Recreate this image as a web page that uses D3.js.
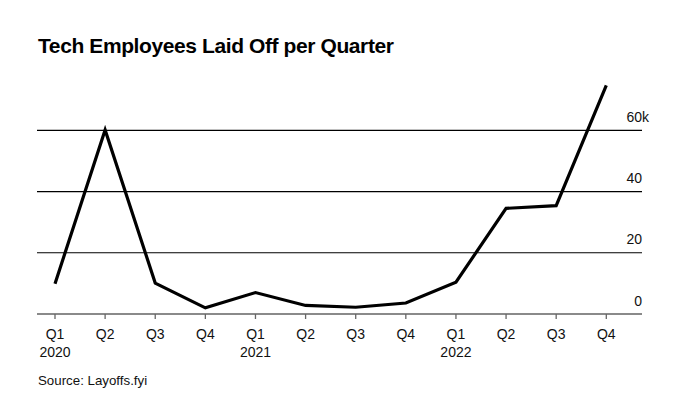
<html>
  <head>
    <style>
      body { margin: 0; background: #fff; }
      svg { font-family: "Liberation Sans", Arial, sans-serif; }
    </style>
  </head>
  <body>
    <div id="vis"></div>
    <script src="https://cdn.jsdelivr.net/npm/d3@7"></script>
    <script>
      // quarters and layoffs
      const quarters = ['Q1','Q2','Q3','Q4','Q1','Q2','Q3','Q4','Q1','Q2','Q3','Q4']
      const years = ['2020','','','','2021','','','','2022','','','']
      const layoffs = [9900, 60100, 10100, 2000, 7000, 2800, 2200, 3600, 10400, 34500, 35400, 74700]
      const yTicks = [0, 20000, 40000, 60000]
      const yTickLabels = ['0', '20', '40', '60']

      const width = 685, height = 410
      const svg = d3.select('#vis').append('svg').attr('width', width).attr('height', height)

      const x = d3.scalePoint().domain(d3.range(quarters.length)).range([55, 606.3])
      const y = d3.scaleLinear().domain([0, 60000]).range([314, 130.3])
      const left = 37, right = 642

      svg.append('text')
        .attr('x', 38).attr('y', 53)
        .attr('font-size', 21).attr('font-weight', 'bold')
        .attr('letter-spacing', -0.4)
        .attr('fill', '#000')
        .text('Tech Employees Laid Off per Quarter')

      // gridlines
      const grid = svg.append('g')
      grid.selectAll('line')
        .data(yTicks.filter(d => d > 0))
        .join('line')
        .attr('x1', left).attr('x2', right)
        .attr('y1', d => y(d)).attr('y2', d => y(d))
        .attr('stroke', '#000').attr('stroke-width', 1.2)

      grid.selectAll('text')
        .data(yTicks)
        .join('text')
        .attr('x', right).attr('y', d => y(d) - 8.5)
        .attr('text-anchor', 'end')
        .attr('font-size', 14)
        .attr('fill', '#111')
        .text((d, i) => yTickLabels[i])
      svg.append('text')
        .attr('x', right).attr('y', y(60000) - 8.5)
        .attr('font-size', 14).attr('fill', '#111')
        .text('k')

      // x axis
      const xAxis = svg.append('g').attr('transform', 'translate(0,' + y(0) + ')')
      xAxis.append('line')
        .attr('x1', left).attr('x2', right)
        .attr('stroke', '#8a8a8a').attr('stroke-width', 2)
      const ticks = xAxis.selectAll('g.tick')
        .data(quarters)
        .join('g')
        .attr('class', 'tick')
        .attr('transform', (d, i) => 'translate(' + x(i) + ',0)')
      ticks.append('line')
        .attr('y1', 0).attr('y2', 5)
        .attr('stroke', '#666').attr('stroke-width', 1.3)
      ticks.append('text')
        .attr('y', 24.5).attr('text-anchor', 'middle')
        .attr('font-size', 14).attr('fill', '#111')
        .text(d => d)
      ticks.append('text')
        .attr('y', 43).attr('text-anchor', 'middle')
        .attr('font-size', 14).attr('fill', '#111')
        .text((d, i) => years[i])

      // line
      const line = d3.line()
        .x((d, i) => x(i))
        .y(d => y(d))
      svg.append('path')
        .datum(layoffs)
        .attr('d', line)
        .attr('fill', 'none')
        .attr('stroke', '#000')
        .attr('stroke-width', 3.2)
        .attr('stroke-linejoin', 'miter')

      svg.append('text')
        .attr('x', 38).attr('y', 385)
        .attr('font-size', 13.3).attr('fill', '#111')
        .text('Source: Layoffs.fyi')
    </script>
  </body>
</html>
